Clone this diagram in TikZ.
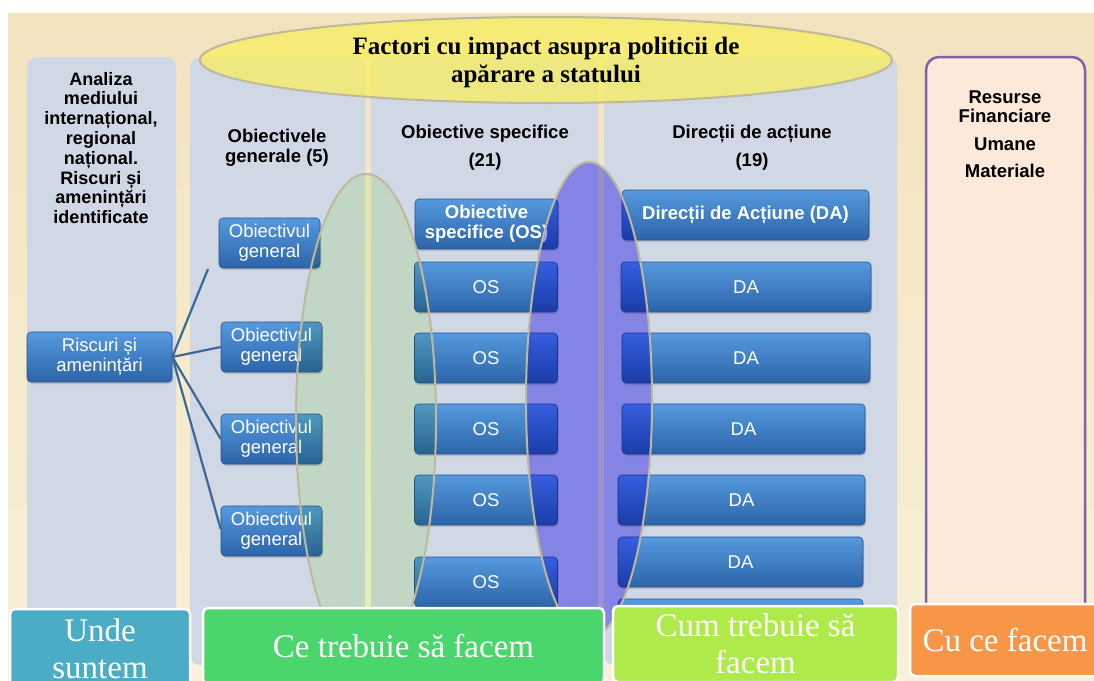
\documentclass[tikz,border=0pt]{standalone}
\usepackage{fontspec}
\setmainfont{Liberation Sans}
\newfontfamily\timesfont{Liberation Serif}
\usetikzlibrary{shadows}

\definecolor{bgtop}{HTML}{F2E3BF}
\definecolor{bgbot}{HTML}{F8F0D8}
\definecolor{panel}{HTML}{D0D7E5}
\definecolor{resfill}{HTML}{FCE9DA}
\definecolor{resline}{HTML}{8064A2}
\definecolor{btntop}{HTML}{5599DE}
\definecolor{btnbot}{HTML}{2C64A8}
\definecolor{btnedge}{HTML}{26538C}
\definecolor{linkblue}{HTML}{3C6898}
\definecolor{yell}{HTML}{F8EF5E}
\definecolor{ellgreen}{HTML}{EEFEDD}
\definecolor{ellviolet}{HTML}{A29DFF}
\definecolor{ellline}{HTML}{BEB89C}
\definecolor{unde}{HTML}{4BACC6}
\definecolor{cecol}{HTML}{4AD66D}
\definecolor{cumcol}{HTML}{AEEA4A}
\definecolor{cucol}{HTML}{F79646}

\tikzset{
  btn/.style={draw=btnedge, line width=0.6pt, rounded corners=4pt,
    top color=btntop, bottom color=btnbot, text=white, align=center,
    inner sep=0pt, minimum height=50pt,
    font=\fontsize{18.5}{20}\selectfont,
    drop shadow={shadow xshift=1pt, shadow yshift=-2pt, opacity=0.3}},
  hdr/.style={align=center, font=\bfseries\fontsize{18.5}{20}\selectfont},
  bar/.style={draw=white, line width=2.5pt, rounded corners=5pt, text=white,
    align=center, inner sep=0pt, font=\timesfont\fontsize{33}{37}\selectfont},
}

\begin{document}
\begin{tikzpicture}[x=1pt,y=-1pt]
  \useasboundingbox (0,0) rectangle (1094,680);
  \fill[white] (0,0) rectangle (1094,680);
  \shade[top color=bgtop, bottom color=bgbot] (8,13) rectangle (1094,680);

  % columns
  \fill[panel, rounded corners=10pt] (27,57) rectangle (176,650);
  \fill[panel, rounded corners=10pt] (190,57) rectangle (365,665);
  \fill[panel, rounded corners=10pt] (371,57) rectangle (598,665);
  \fill[panel, rounded corners=10pt] (604,57) rectangle (897,665);
  \filldraw[fill=resfill, draw=resline, line width=2.5pt, rounded corners=13pt]
    (926,57) rectangle (1085,640);

  % column headings
  \node[hdr, font=\bfseries\fontsize{18}{19.8}\selectfont] (analiza) at (101,148)
    {Analiza\\mediului\\internațional,\\regional\\național.\\Riscuri și\\amenințări\\identificate};
  \node[hdr] (obgen) at (277,148) {Obiectivele\\generale (5)};
  \node[hdr, font=\bfseries\fontsize{18.5}{28}\selectfont] (obspec) at (485,148)
    {Obiective specifice\\(21)};
  \node[hdr, font=\bfseries\fontsize{18.5}{28}\selectfont] (dirac) at (752,148)
    {Direcții de acțiune\\(19)};
  \node[hdr, font=\bfseries\fontsize{18.5}{19.5}\selectfont] (resurse) at (1005,134)
    {Resurse\\Financiare\\[8pt]Umane\\[8pt]Materiale};

  % buttons
  \node[btn, minimum width=145pt] (risc) at (99.5,357) {Riscuri și\\amenințări};
  \node[btn, minimum width=101pt] (og1) at (269.5,243) {Obiectivul\\general};
  \node[btn, minimum width=101pt] (og2) at (271.5,347) {Obiectivul\\general};
  \node[btn, minimum width=101pt] (og3) at (271.5,439) {Obiectivul\\general};
  \node[btn, minimum width=101pt] (og4) at (271.5,531) {Obiectivul\\general};

  \node[btn, minimum width=143pt, font=\bfseries\fontsize{18.5}{20}\selectfont]
    (osh) at (486.5,224) {Obiective\\specifice (OS)};
  \foreach \n/\y in {1/287,2/358,3/429,4/500,5/582}
    \node[btn, minimum width=143pt] (os\n) at (486,\y) {OS};

  \node[btn, minimum width=247pt, font=\bfseries\fontsize{18.5}{20}\selectfont]
    (dah) at (745.5,215) {Direcții de Acțiune (DA)};
  \foreach \n/\x/\y/\w in {1/746/287/250,2/746/358/248,3/743.5/429/243,4/741.5/500/247,5/740.5/562/245}
    \node[btn, minimum width=\w pt] (da\n) at (\x,\y) {DA};
  \node[btn, minimum width=245pt] (da6) at (740.5,624) {};

  % links
  \coordinate (og1tip) at (208,269);
  \draw[linkblue, line width=2.2pt] (risc.east) -- (og1tip);
  \draw[linkblue, line width=2.2pt] (risc.east) -- (og2.west);
  \draw[linkblue, line width=2.2pt] (risc.east) -- (og3.west);
  \draw[linkblue, line width=2.2pt] (risc.east) -- ([yshift=2pt]og4.west);

  % ellipses
  \fill[ellgreen, blend mode=multiply] (366,420) ellipse [x radius=70, y radius=246];
  \draw[ellline, line width=2pt] (366,420) ellipse [x radius=70, y radius=246];
  \fill[ellviolet, blend mode=multiply] (589,400) ellipse [x radius=63, y radius=238];
  \draw[ellline, line width=2pt] (589,400) ellipse [x radius=63, y radius=238];
  \filldraw[fill=yell, fill opacity=0.75, draw=ellline, line width=2pt]
    (546,60) ellipse [x radius=346, y radius=43];
  \node[align=center, font=\timesfont\bfseries\fontsize{25}{28}\selectfont] (title)
    at (546,62) {Factori cu impact asupra politicii de\\apărare a statului};

  % bottom bars
  \node[bar, fill=unde, minimum width=180pt, minimum height=80pt] (undebar)
    at (100,649) {Unde\\suntem};
  \node[bar, fill=cecol, minimum width=401pt, minimum height=76pt] (cebar)
    at (403.5,646) {Ce trebuie să facem};
  \node[bar, fill=cumcol, minimum width=285pt, minimum height=76pt] (cumbar)
    at (755.5,644) {Cum trebuie să\\facem};
  \node[bar, fill=cucol, minimum width=190pt, minimum height=72pt] (cubar)
    at (1005,640) {Cu ce facem};
\end{tikzpicture}
\end{document}
